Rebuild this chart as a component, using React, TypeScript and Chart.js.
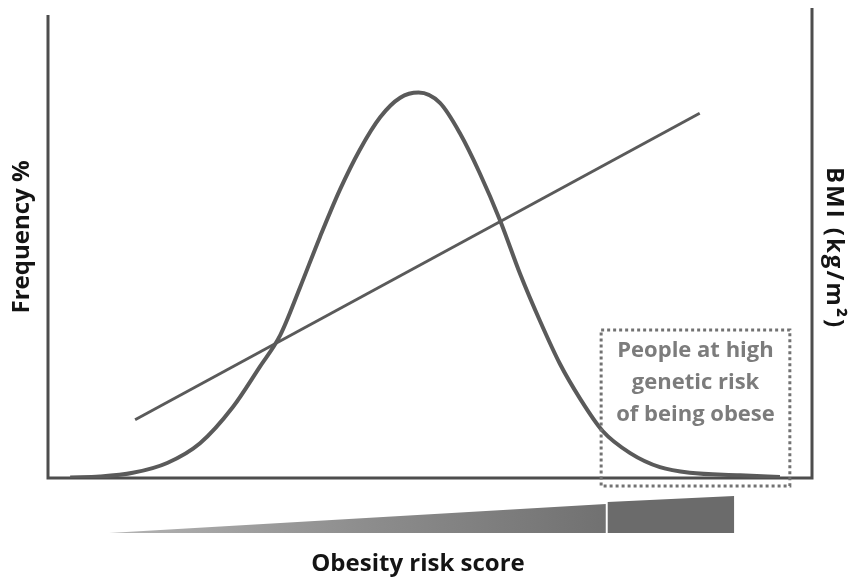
import React, { useEffect, useRef } from "react";
import { Chart, registerables } from "chart.js";

Chart.register(...registerables);

// Bell curve: frequency (%) of people by obesity risk score
const RISK_SCORE = [2.9, 6.8, 11.1, 15.6, 19.9, 24.2, 27.7, 30.4, 33.0, 35.6, 38.2, 40.8, 43.5, 46.1, 48.5, 51.3, 53.9, 56.5, 59.2, 61.8, 64.4, 67.0, 69.6, 72.6, 76.2, 80.1, 84.0, 90.6, 95.8];
const FREQUENCY = [0.1, 0.3, 1.1, 3.2, 7.4, 15.1, 23.6, 30.4, 40.6, 51.3, 61.3, 69.8, 76.8, 80.9, 82.0, 79.8, 73.4, 64.9, 54.7, 43.4, 33.4, 24.3, 17.0, 10.0, 5.3, 2.3, 1.1, 0.6, 0.2];

// BMI trend line (right axis)
const BMI_SCORE = [11.4, 85.3];
const BMI_VALUE = [18.1, 34.4];

// High genetic risk highlight box
const HIGH_RISK_SCORE = [72.4, 97.1];
const HIGH_RISK_FREQ = [-1.7, 31.5];
const HIGH_RISK_LABEL = ["People at high", "genetic risk", "of being obese"];

// Risk score wedge under the axis (start, step, end)
const WEDGE_SCORE = [8.0, 73.0, 89.8];

const X_TITLE = "Obesity risk score";
const Y_TITLE = "Frequency %";
const Y2_TITLE = "BMI (kg/m²)";

const FONT = '"Open Sans", "Noto Sans", sans-serif';

const decorPlugin = {
  id: "decor",
  beforeDatasetsDraw(chart: any) {
    const { ctx, chartArea } = chart;
    const { left, right, top, bottom } = chartArea;
    ctx.save();
    ctx.strokeStyle = "#4d4d4d";
    ctx.lineWidth = 3;
    ctx.lineJoin = "miter";
    ctx.beginPath();
    ctx.moveTo(left, top + 7);
    ctx.lineTo(left, bottom);
    ctx.lineTo(right, bottom);
    ctx.lineTo(right, top);
    ctx.stroke();
    ctx.restore();
  },
  afterDatasetsDraw(chart: any) {
    const { ctx, chartArea, scales } = chart;
    const xs = scales.x;
    const ys = scales.y;
    const { left, right, bottom } = chartArea;
    ctx.save();

    // dotted box
    const bx1 = xs.getPixelForValue(HIGH_RISK_SCORE[0]);
    const bx2 = xs.getPixelForValue(HIGH_RISK_SCORE[1]);
    const by1 = ys.getPixelForValue(HIGH_RISK_FREQ[1]);
    const by2 = ys.getPixelForValue(HIGH_RISK_FREQ[0]);
    ctx.strokeStyle = "#727272";
    ctx.lineWidth = 3;
    ctx.setLineDash([3, 3]);
    ctx.strokeRect(bx1, by1, bx2 - bx1, by2 - by1);
    ctx.setLineDash([]);

    // box label
    ctx.fillStyle = "#7c7c7c";
    ctx.font = `bold 22px ${FONT}`;
    ctx.textAlign = "center";
    ctx.textBaseline = "middle";
    const cx = (bx1 + bx2) / 2;
    HIGH_RISK_LABEL.forEach((t, i) => {
      ctx.fillText(t, cx, by1 + 21 + i * 32);
    });

    // wedge
    const w0 = xs.getPixelForValue(WEDGE_SCORE[0]);
    const w1 = xs.getPixelForValue(WEDGE_SCORE[1]);
    const w2 = xs.getPixelForValue(WEDGE_SCORE[2]);
    const wb = bottom + 55;
    const grad = ctx.createLinearGradient(w0, 0, w1, 0);
    grad.addColorStop(0, "#b4b4b4");
    grad.addColorStop(0.5, "#8e8e8e");
    grad.addColorStop(1, "#717171");
    ctx.fillStyle = grad;
    ctx.beginPath();
    ctx.moveTo(w0, wb);
    ctx.lineTo(w1, bottom + 26);
    ctx.lineTo(w1, wb);
    ctx.closePath();
    ctx.fill();
    ctx.fillStyle = "#6b6b6b";
    ctx.beginPath();
    ctx.moveTo(w1 + 2, bottom + 24);
    ctx.lineTo(w2, bottom + 18);
    ctx.lineTo(w2, wb);
    ctx.lineTo(w1 + 2, wb);
    ctx.closePath();
    ctx.fill();

    // titles
    ctx.fillStyle = "#141414";
    ctx.font = `bold 24px ${FONT}`;
    ctx.textAlign = "center";
    ctx.textBaseline = "middle";
    ctx.fillText(X_TITLE, (left + right) / 2 - 12, bottom + 86);

    ctx.save();
    ctx.translate(left - 26, 237);
    ctx.rotate(-Math.PI / 2);
    ctx.fillText(Y_TITLE, 0, 0);
    ctx.restore();

    ctx.save();
    ctx.translate(right + 22, 248);
    ctx.rotate(Math.PI / 2);
    (ctx as any).letterSpacing = "2px";
    ctx.fillText(Y2_TITLE, 0, 0);
    ctx.restore();

    ctx.restore();
  },
};

export default function App() {
  const ref = useRef<HTMLCanvasElement>(null);
  useEffect(() => {
    document.body.style.margin = "0";
    const canvas = ref.current;
    if (!canvas) return;
    const chart = new Chart(canvas, {
      type: "line",
      data: {
        datasets: [
          {
            label: "Frequency",
            data: RISK_SCORE.map((x, i) => ({ x, y: FREQUENCY[i] })),
            borderColor: "#5a5a5a",
            borderWidth: 4,
            pointRadius: 0,
            tension: 0.4,
            cubicInterpolationMode: "monotone",
            fill: false,
            yAxisID: "y",
          },
          {
            label: "BMI",
            data: BMI_SCORE.map((x, i) => ({ x, y: BMI_VALUE[i] })),
            borderColor: "#5a5a5a",
            borderWidth: 3,
            pointRadius: 0,
            fill: false,
            yAxisID: "y2",
          },
        ],
      },
      options: {
        animation: false,
        responsive: false,
        events: [],
        layout: { padding: { left: 48, right: 40, top: 8, bottom: 104 } },
        plugins: { legend: { display: false }, tooltip: { enabled: false } },
        scales: {
          x: { type: "linear", min: 0, max: 100, display: false },
          y: { type: "linear", min: 0, max: 100, display: false },
          y2: { type: "linear", min: 15, max: 40, display: false, position: "right" },
        },
      },
      plugins: [decorPlugin],
    } as any);
    return () => chart.destroy();
  }, []);
  return (
    <div style={{ position: "absolute", left: 0, top: 0, width: 852, height: 582, background: "#fff" }}>
      <canvas ref={ref} width={852} height={582} />
    </div>
  );
}
